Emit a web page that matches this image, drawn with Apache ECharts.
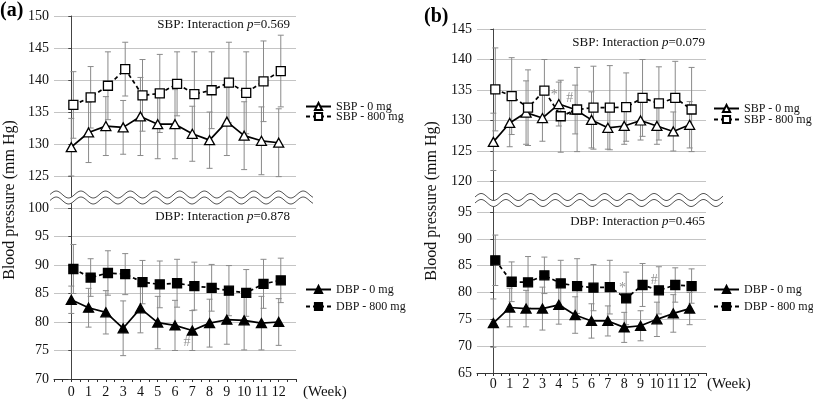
<!DOCTYPE html>
<html>
<head>
<meta charset="utf-8">
<script src="https://cdn.jsdelivr.net/npm/echarts@6/dist/echarts.min.js"></script>
<style>
  html, body { margin: 0; padding: 0; background: #fff; }
  #chart { width: 813px; height: 402px; }
</style>
</head>
<body>
<div id="chart"></div>
<script>
// weeks of treatment
var weeks = [0, 1, 2, 3, 4, 5, 6, 7, 8, 9, 10, 11, 12];

// (a) means and SDs
var aSbp0 = [129.5, 131.8, 132.8, 132.6, 134.3, 133.1, 133.1, 131.6, 130.6, 133.5, 131.3, 130.5, 130.2];
var aSbp0Sd = [4.5, 4.7, 4.6, 4.2, 6.1, 5.4, 5.4, 4.3, 4.4, 5.3, 5.3, 5.3, 5.3];
var aSbp800 = [136.1, 137.3, 139.1, 141.7, 137.6, 137.9, 139.4, 137.8, 138.4, 139.6, 138.0, 139.8, 141.4];
var aSbp800Sd = [5.2, 4.8, 5.3, 4.2, 5.6, 6.1, 5.0, 6.6, 6.0, 6.3, 6.4, 6.3, 5.6];
var aDbp0 = [83.9, 82.5, 81.7, 78.9, 82.4, 79.9, 79.4, 78.5, 79.8, 80.4, 80.3, 79.8, 80.0];
var aDbp0Sd = [2.4, 3.4, 3.8, 4.8, 4.3, 4.6, 4.4, 3.5, 4.2, 4.3, 5.2, 4.7, 4.1];
var aDbp800 = [89.3, 87.8, 88.6, 88.4, 87.0, 86.6, 86.8, 86.3, 86.0, 85.5, 85.1, 86.7, 87.3];
var aDbp800Sd = [4.3, 3.3, 3.9, 3.6, 3.8, 4.1, 4.2, 4.2, 4.1, 4.4, 4.1, 4.3, 3.9];

// (b) means and SDs
var bSbp0 = [126.5, 129.6, 131.3, 130.4, 132.7, 131.8, 130.1, 128.8, 129.1, 130.0, 129.1, 128.2, 129.3];
var bSbp0Sd = [4.7, 3.9, 5.2, 3.8, 3.6, 4.0, 4.6, 3.5, 3.0, 3.2, 3.0, 3.2, 3.8];
var bSbp800 = [135.1, 134.0, 132.1, 134.9, 130.7, 131.8, 132.1, 132.1, 132.2, 133.7, 132.8, 133.7, 131.8];
var bSbp800Sd = [6.8, 6.3, 6.2, 5.1, 5.9, 6.9, 6.8, 6.9, 5.6, 6.3, 6.0, 6.0, 6.9];
var bDbp0 = [74.3, 77.2, 77.0, 77.0, 77.7, 75.8, 74.7, 74.7, 73.5, 73.8, 75.0, 76.1, 77.0];
var bDbp0Sd = [4.5, 3.6, 3.4, 4.0, 3.6, 3.4, 3.2, 2.8, 2.8, 2.8, 3.2, 3.5, 3.0];
var bDbp800 = [86.0, 82.0, 81.9, 83.2, 81.7, 81.2, 80.9, 81.0, 78.9, 81.4, 80.4, 81.4, 81.2];
var bDbp800Sd = [4.7, 3.7, 4.8, 3.4, 4.3, 5.1, 4.3, 5.0, 4.9, 4.0, 4.4, 3.2, 3.2];

// significance marks [week, value, mark]
var aDbpMarks = [[6.7, 76.5, '#']];
var bSbpMarks = [[3.73, 134.2, '*'], [4.67, 133.6, '#']];
var bDbpMarks = [[7.9, 80.7, '*'], [9.83, 82.3, '#']];

// y ranges of the four panels
var yRanges = [[120, 150], [70, 100], [115, 145], [65, 95]];
var yHidden = [120, null, 115, null];

var OFFSET = 0.12;
var FONT = 'Liberation Serif';

var chart = echarts.init(document.getElementById('chart'));

function pairs(vals, dx) {
  return weeks.map(function (w, i) { return [w + dx, vals[i]]; });
}
function bars(vals, sd, dx) {
  return weeks.map(function (w, i) { return [w + dx, vals[i] - sd[i], vals[i] + sd[i]]; });
}

function errRender(params, api) {
  var x = api.value(0);
  var lo = api.coord([x, api.value(1)]);
  var hi = api.coord([x, api.value(2)]);
  var w = 3;
  var st = { stroke: '#8a8a8a', lineWidth: 1 };
  return {
    type: 'group',
    children: [
      { type: 'line', shape: { x1: lo[0], y1: lo[1], x2: hi[0], y2: hi[1] }, style: st },
      { type: 'line', shape: { x1: lo[0] - w, y1: lo[1], x2: lo[0] + w, y2: lo[1] }, style: st },
      { type: 'line', shape: { x1: hi[0] - w, y1: hi[1], x2: hi[0] + w, y2: hi[1] }, style: st }
    ]
  };
}

function errSeries(idx, vals, sd, dx) {
  return {
    type: 'custom', xAxisIndex: idx, yAxisIndex: idx,
    renderItem: errRender, data: bars(vals, sd, dx),
    encode: { x: 0, y: [1, 2] }, z: 1, silent: true
  };
}

function lineSeries(idx, name, vals, high, filled) {
  return {
    type: 'line', name: name, xAxisIndex: idx, yAxisIndex: idx,
    data: pairs(vals, high ? OFFSET : 0),
    symbol: high ? 'rect' : 'triangle',
    symbolSize: high ? 9 : [10, 9],
    showAllSymbol: true,
    itemStyle: { color: filled ? '#000' : '#fff', borderColor: '#000', borderWidth: 1.3, opacity: 1 },
    lineStyle: { color: '#000', width: 1.7, type: high ? [4, 3] : 'solid' },
    z: 3, animation: false
  };
}

function markSeries(idx, marks) {
  return {
    type: 'scatter', xAxisIndex: idx, yAxisIndex: idx,
    data: marks, symbolSize: 0, z: 4, silent: true,
    label: {
      show: true, position: 'inside', color: '#777', fontFamily: FONT, fontSize: 14,
      formatter: function (p) { return p.value[2]; }
    }
  };
}

var grids = [
  { left: 54, right: 517, top: 16, height: 192 },
  { left: 54, right: 517, top: 208, height: 171 },
  { left: 477, right: 107, top: 29, height: 183 },
  { left: 477, right: 107, top: 212, height: 161 }
];

var xAxes = grids.map(function (g, i) {
  var bottom = (i === 1 || i === 3);
  return {
    type: 'value', gridIndex: i, min: -1, max: 13, interval: 1,
    show: bottom,
    axisLine: { show: true, lineStyle: { color: '#333', width: 1 } },
    axisTick: { show: true, length: 3, lineStyle: { color: '#333' } },
    minorTick: { show: true, splitNumber: 2, length: 3, lineStyle: { color: '#333' } },
    splitLine: { show: false },
    axisLabel: {
      color: '#111', fontFamily: FONT, fontSize: 14, margin: i === 1 ? 6 : 4,
      formatter: function (v) { return (v < 0 || v > 12) ? '' : String(v); }
    }
  };
});

var yAxes = grids.map(function (g, i) {
  return {
    type: 'value', gridIndex: i, min: yRanges[i][0], max: yRanges[i][1], interval: 5,
    axisLine: { show: true, lineStyle: { color: '#444', width: 1 } },
    axisTick: { show: true, length: 3, lineStyle: { color: '#444' } },
    splitLine: { show: true, lineStyle: { color: '#c4c4c4', width: 1 } },
    axisLabel: {
      color: '#111', fontFamily: FONT, fontSize: 14, margin: 5,
      formatter: function (v) { return v === yHidden[i] ? '' : String(v); }
    }
  };
});

var series = [
  errSeries(0, aSbp0, aSbp0Sd, 0), errSeries(0, aSbp800, aSbp800Sd, OFFSET),
  errSeries(1, aDbp0, aDbp0Sd, 0), errSeries(1, aDbp800, aDbp800Sd, OFFSET),
  errSeries(2, bSbp0, bSbp0Sd, 0), errSeries(2, bSbp800, bSbp800Sd, OFFSET),
  errSeries(3, bDbp0, bDbp0Sd, 0), errSeries(3, bDbp800, bDbp800Sd, OFFSET),
  lineSeries(0, 'SBP - 0 mg', aSbp0, false, false),
  lineSeries(0, 'SBP - 800 mg', aSbp800, true, false),
  lineSeries(1, 'DBP - 0 mg', aDbp0, false, true),
  lineSeries(1, 'DBP - 800 mg', aDbp800, true, true),
  lineSeries(2, 'SBP - 0 mg', bSbp0, false, false),
  lineSeries(2, 'SBP - 800 mg', bSbp800, true, false),
  lineSeries(3, 'DBP - 0 mg', bDbp0, false, true),
  lineSeries(3, 'DBP - 800 mg', bDbp800, true, true),
  markSeries(1, aDbpMarks), markSeries(2, bSbpMarks), markSeries(3, bDbpMarks)
];

function legendAt(left, top, names, gap) {
  return {
    left: left, top: top, orient: 'vertical', data: names, padding: 0,
    itemWidth: 25, itemHeight: 9, itemGap: gap, selectedMode: false,
    textStyle: { color: '#111', fontFamily: FONT, fontSize: 12, lineHeight: 13 }
  };
}

function wave(x0, x1, cy, amp, period) {
  var pts = [];
  for (var x = x0; x <= x1; x += 1) {
    pts.push([x, cy - amp * Math.sin(2 * Math.PI * (x - x0) / period)]);
  }
  return pts;
}

function waveBreak(x0, x1, cy) {
  var up = wave(x0, x1, cy - 3, 3.5, 24.7);
  var dn = wave(x0, x1, cy + 3, 3.5, 24.7);
  var band = up.concat(dn.slice().reverse());
  return [
    { type: 'polygon', shape: { points: band }, style: { fill: '#fff' }, z: 100 },
    { type: 'polyline', shape: { points: up }, style: { stroke: '#555', lineWidth: 1, fill: null }, z: 101 },
    { type: 'polyline', shape: { points: dn }, style: { stroke: '#555', lineWidth: 1, fill: null }, z: 101 }
  ];
}

function pText(x, y, label, pval) {
  return {
    type: 'text', x: x, y: y, z: 50,
    style: {
      text: '{n|' + label + ': Interaction }{i|p}{n|=' + pval + '}',
      align: 'right', verticalAlign: 'middle',
      rich: {
        n: { fontFamily: FONT, fontSize: 13, fill: '#111' },
        i: { fontFamily: FONT, fontSize: 13, fontStyle: 'italic', fill: '#111' }
      }
    }
  };
}

function titleText(x, y) {
  return {
    type: 'text', x: x, y: y, rotation: Math.PI / 2,
    style: {
      text: 'Blood pressure (mm Hg)', fontFamily: FONT, fontSize: 16, fill: '#111',
      align: 'center', verticalAlign: 'middle'
    }
  };
}

var graphics = []
  .concat(waveBreak(50, 313, 197.5))
  .concat(waveBreak(475, 723, 200))
  .concat([
    pText(290, 25, 'SBP', '0.569'),
    pText(290, 217, 'DBP', '0.878'),
    pText(705, 43, 'SBP', '0.079'),
    pText(705, 222, 'DBP', '0.465'),
    titleText(10, 200),
    titleText(432, 201),
    { type: 'text', x: 0, y: 11, style: { text: '(a)', fontFamily: FONT, fontSize: 20, fontWeight: 'bold', fill: '#000', verticalAlign: 'middle' } },
    { type: 'text', x: 424, y: 17, style: { text: '(b)', fontFamily: FONT, fontSize: 20, fontWeight: 'bold', fill: '#000', verticalAlign: 'middle' } },
    { type: 'text', x: 303, y: 392, style: { text: '(Week)', fontFamily: FONT, fontSize: 15, fill: '#111', verticalAlign: 'middle' } },
    { type: 'text', x: 707, y: 384, style: { text: '(Week)', fontFamily: FONT, fontSize: 15, fill: '#111', verticalAlign: 'middle' } }
  ]);

chart.setOption({
  animation: false,
  backgroundColor: '#fff',
  grid: grids,
  xAxis: xAxes,
  yAxis: yAxes,
  legend: [
    legendAt(305, 100, ['SBP - 0 mg', 'SBP - 800 mg'], -3),
    legendAt(305, 283, ['DBP - 0 mg', 'DBP - 800 mg'], 4),
    legendAt(713, 102, ['SBP - 0 mg', 'SBP - 800 mg'], -2),
    legendAt(713, 283, ['DBP - 0 mg', 'DBP - 800 mg'], 4)
  ],
  graphic: graphics,
  series: series
});
</script>
</body>
</html>
